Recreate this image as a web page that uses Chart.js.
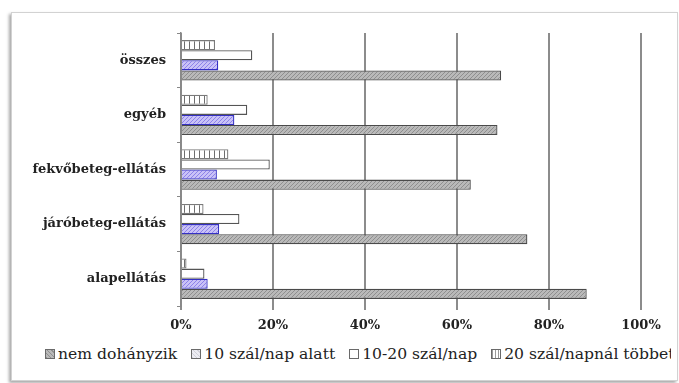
<!DOCTYPE html>
<html>
<head>
<meta charset="utf-8">
<script src="https://cdn.jsdelivr.net/npm/chart.js@4/dist/chart.umd.min.js"></script>
<style>
    html, body { margin: 0; padding: 0; background: #fff; overflow: hidden; }
    body { width: 679px; height: 383px; position: relative; }
    .frame {
        position: absolute; left: 11px; top: 12px; width: 665px; height: 367px;
        border: 1px solid #d2d2d2; box-shadow: -2px 2px 3px rgba(0, 0, 0, 0.35);
        background: #fff; overflow: hidden;
    }
    .plot { position: absolute; left: 0; top: 0; width: 665px; height: 330px; }
    .legend {
        position: absolute; left: 33px; top: 332px; width: 626px; overflow: hidden;
        display: flex; align-items: center; white-space: nowrap; gap: 14px;
        font: 15.6px 'DejaVu Serif', serif; color: #222;
    }
    .legend span.item { display: flex; align-items: center; }
    .legend i { display: inline-block; width: 8px; height: 8px; border: 1px solid #6a6a6a; margin-right: 3px; }
</style>
</head>
<body>
<div class="frame">
    <div class="plot"><canvas id="smokingChart"></canvas></div>
    <div class="legend" id="legend"></div>
</div>
<script>
document.addEventListener('DOMContentLoaded', function () {
    // Dohányzási szokások ellátási terület szerint (%)
    const categories = ['összes', 'egyéb', 'fekvőbeteg-ellátás', 'járóbeteg-ellátás', 'alapellátás'];
    const seriesNames = ['nem dohányzik', '10 szál/nap alatt', '10-20 szál/nap', '20 szál/napnál többet'];
    const nemDohanyzik = [69.6, 68.8, 63.0, 75.3, 88.2];
    const alatt10 = [8.1, 11.6, 7.8, 8.3, 5.8];
    const kozott10es20 = [15.5, 14.4, 19.3, 12.7, 5.1];
    const tobb20 = [7.4, 5.8, 10.3, 4.9, 1.2];
    const tickValues = [0, 20, 40, 60, 80, 100];

    // small repeating fills for the bars
    function makePattern(bg, line, kind) {
        const c = document.createElement('canvas');
        const s = kind === 'vert' ? 5 : 4;
        c.width = s; c.height = s;
        const g = c.getContext('2d');
        g.fillStyle = bg;
        g.fillRect(0, 0, s, s);
        g.strokeStyle = line;
        g.lineWidth = 1;
        g.beginPath();
        if (kind === 'vert') {
            g.moveTo(2.5, 0); g.lineTo(2.5, s);
        } else if (kind === 'diag') {
            g.moveTo(0, s); g.lineTo(s, 0);
            g.moveTo(-1, 1); g.lineTo(1, -1);
            g.moveTo(s - 1, s + 1); g.lineTo(s + 1, s - 1);
        }
        g.stroke();
        return g.createPattern(c, 'repeat');
    }

    const fills = [
        makePattern('#b9b9b9', '#8f8f8f', 'diag'),
        makePattern('#c9c2f7', '#8d82ea', 'diag'),
        makePattern('#ffffff', '#ffffff', 'none'),
        makePattern('#ffffff', '#6e6e6e', 'vert')
    ];
    const borders = ['#4a4a4a', '#3530c4', '#555555', '#7a7a7a'];
    const legendSwatch = [
        'repeating-linear-gradient(45deg,#8f8f8f 0 1px,#b9b9b9 1px 3px)',
        'repeating-linear-gradient(45deg,#cfcfd8 0 1px,#ececf2 1px 3px)',
        '#ffffff',
        'repeating-linear-gradient(90deg,#9a9a9a 0 1px,#ffffff 1px 3px)'
    ];
    const values = [nemDohanyzik, alatt10, kozott10es20, tobb20];

    // the bars are stacked top-down in reverse legend order
    const datasets = [3, 2, 1, 0].map(i => ({
        label: seriesNames[i],
        data: values[i],
        backgroundColor: fills[i],
        borderColor: borders[i],
        borderWidth: 1.3,
        categoryPercentage: 0.74,
        barPercentage: 1.0
    }));

    const ctx = document.getElementById('smokingChart').getContext('2d');
    new Chart(ctx, {
        type: 'bar',
        data: { labels: categories, datasets: datasets },
        options: {
            indexAxis: 'y',
            responsive: true,
            maintainAspectRatio: false,
            animation: false,
            layout: { padding: { top: 20, right: 36, left: 0, bottom: 0 } },
            plugins: {
                legend: { display: false },
                tooltip: { enabled: false }
            },
            scales: {
                x: {
                    min: 0,
                    max: 100,
                    afterBuildTicks: axis => { axis.ticks = tickValues.map(v => ({ value: v })); },
                    afterFit: axis => { axis.height = 37; },
                    grid: { color: '#8c8c8c', lineWidth: 2, tickLength: 4 },
                    border: { display: false },
                    ticks: {
                        padding: 8,
                        color: '#222',
                        font: { family: 'DejaVu Serif', size: 13, weight: 'bold' },
                        callback: v => v + '%'
                    }
                },
                y: {
                    afterFit: axis => { axis.width = 169; },
                    grid: { drawOnChartArea: false, color: '#888', tickLength: 4 },
                    border: { color: '#888', width: 1.5 },
                    ticks: {
                        padding: 11,
                        color: '#222',
                        font: { family: 'DejaVu Serif', size: 13, weight: 'bold' }
                    }
                }
            }
        }
    });

    // legend below the plot, in series order
    const legend = document.getElementById('legend');
    seriesNames.forEach((name, i) => {
        const item = document.createElement('span');
        item.className = 'item';
        const box = document.createElement('i');
        box.style.background = legendSwatch[i];
        item.appendChild(box);
        item.appendChild(document.createTextNode(name));
        legend.appendChild(item);
    });
});
</script>
</body>
</html>
